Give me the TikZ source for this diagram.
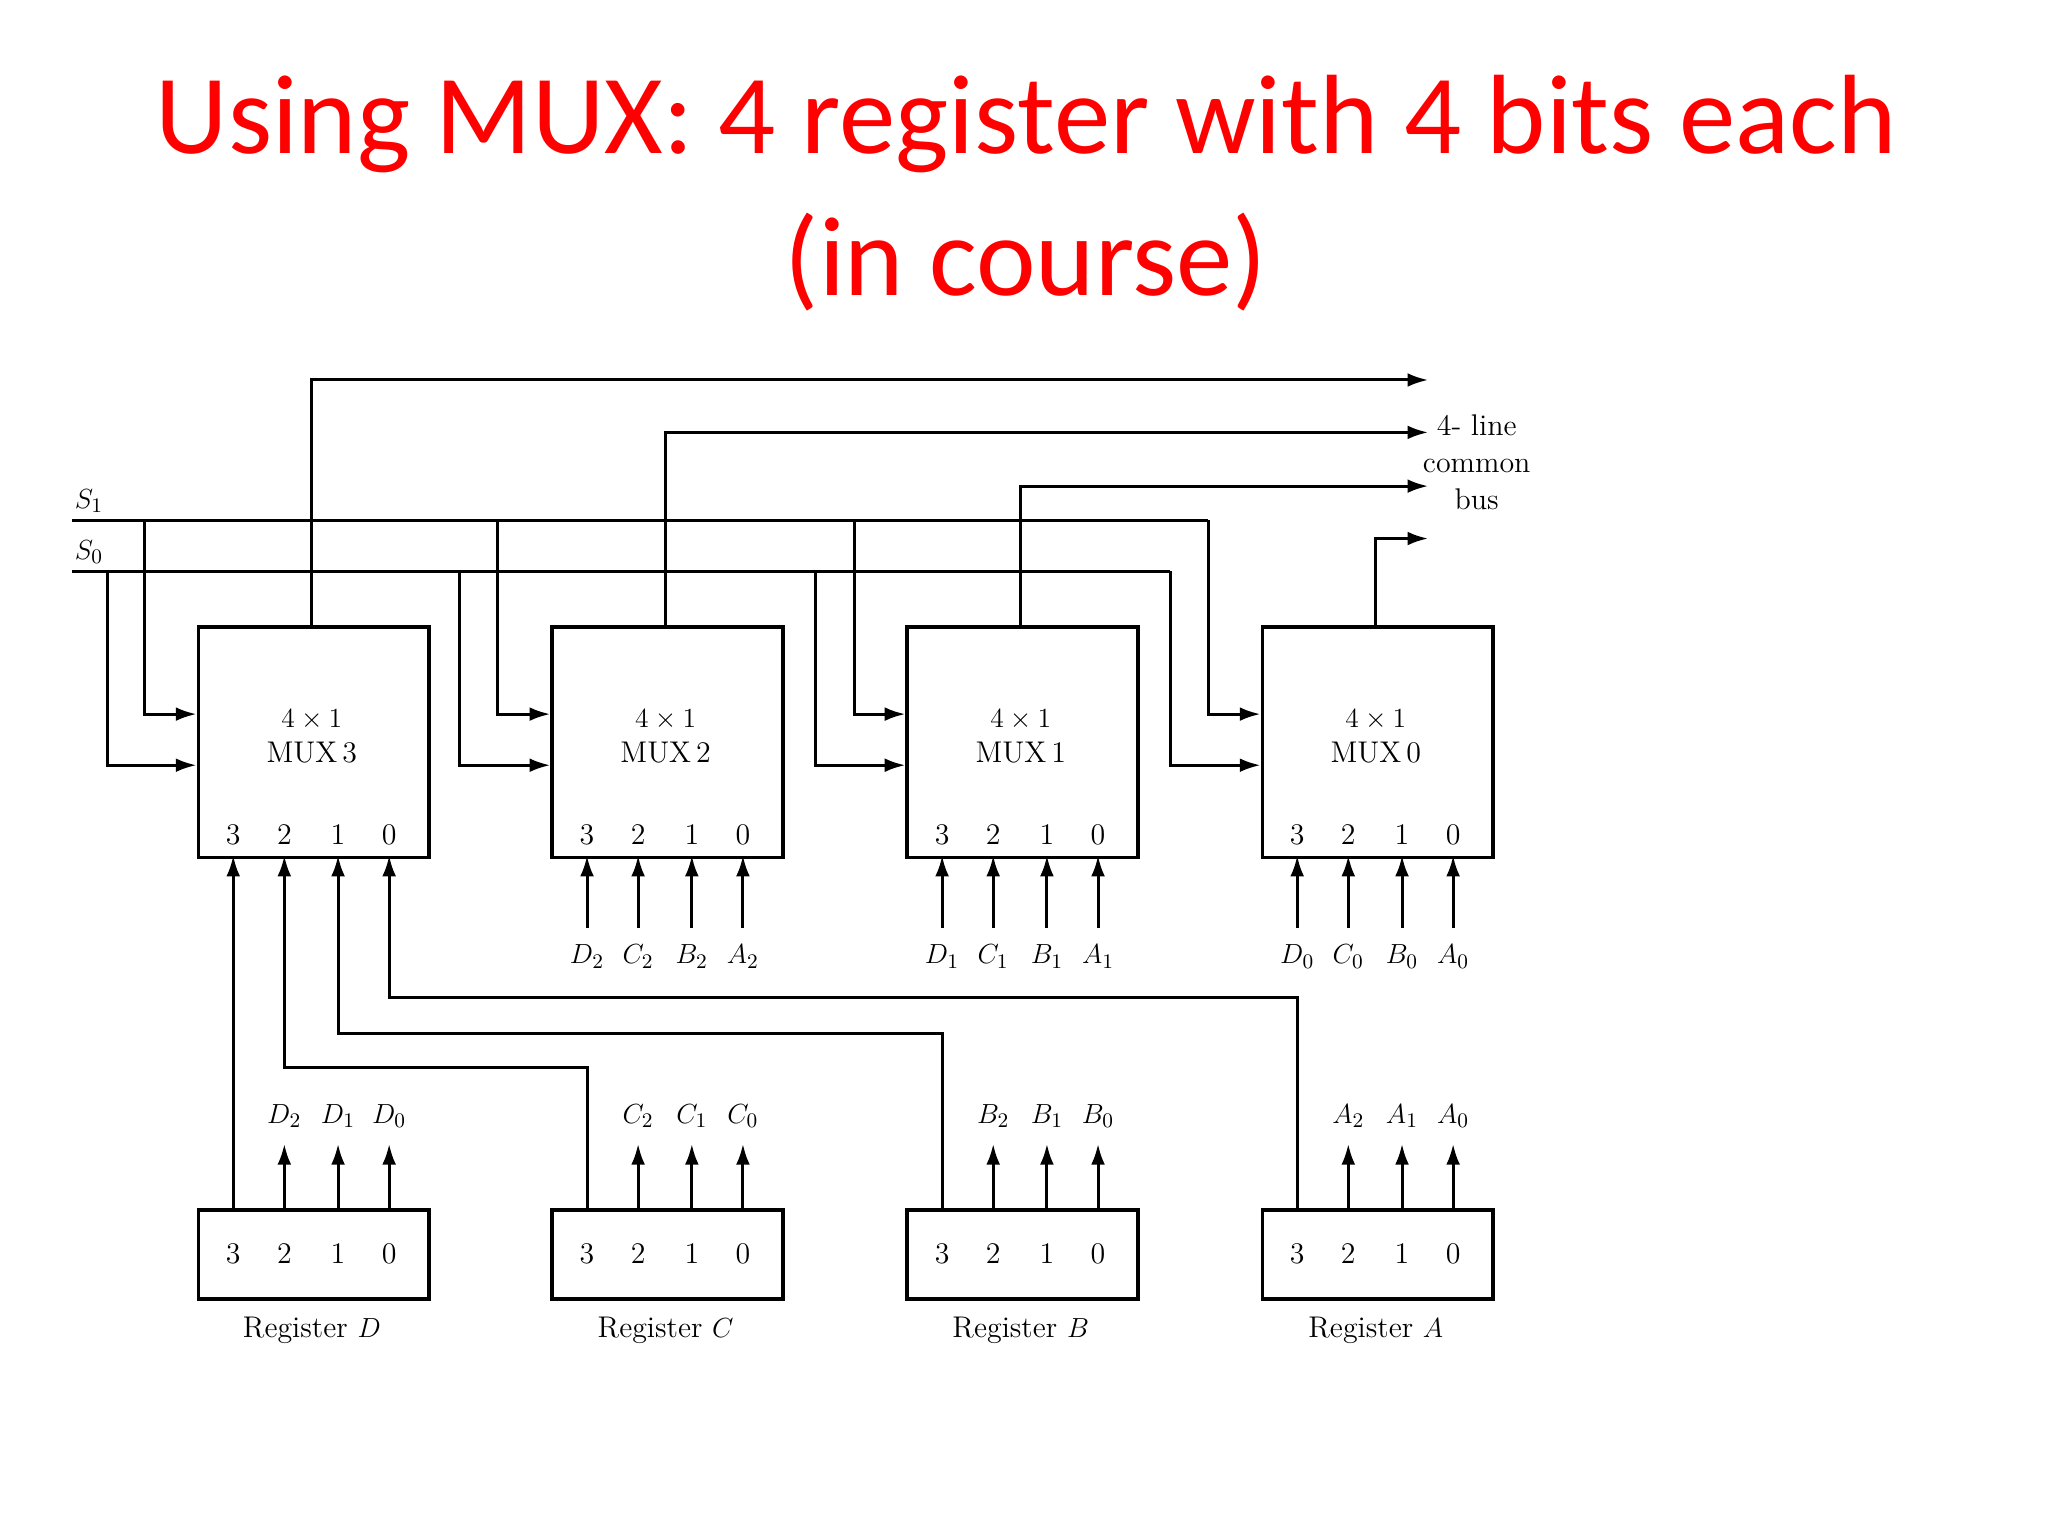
\documentclass[tikz,border=0pt]{standalone}
\usepackage{fontspec}
\newfontfamily\titlefont{Carlito}
\usetikzlibrary{arrows.meta}
\begin{document}
\begin{tikzpicture}[x=0.02cm,y=-0.02cm,
  wire/.style={line width=1.3pt},
  arr/.style={wire,-{Latex[length=9pt,width=6pt]}},
  box/.style={draw,line width=1.6pt,minimum width=3.52cm,inner sep=0,anchor=north west},
  lbl/.style={font=\fontsize{13}{15}\selectfont,inner sep=1pt},
  ttl/.style={font=\titlefont\fontsize{49}{56}\selectfont,text=red}]
\useasboundingbox (0,0) rectangle (1563,1172);
\node[ttl] (t1) at (783,95) {Using MUX: 4 register with 4 bits each};
\node[ttl] (t2) at (783,200) {(in course)};
% select lines
\coordinate (s1a) at (55,397); \coordinate (s1b) at (922,397);
\coordinate (s0a) at (55,436); \coordinate (s0b) at (893,436);
\draw[wire] (s1a) -- (s1b); \draw[wire] (s0a) -- (s0b);
\node[lbl,anchor=south west] (ls1) at (55,393) {$S_1$};
\node[lbl,anchor=south west] (ls0) at (55,432) {$S_0$};
% muxes and registers
\foreach \i/\x/\L/\sa/\sb/\oy in {3/150/D/110/82/290,2/420/C/380/351/330,1/691/B/652/622/371,0/962/A/922/893/411}{
  \node[box,minimum height=3.52cm] (m\i) at (\x,477) {};
  \node[lbl,align=center] (mt\i) at (\x+88,562) {$4\times1$\\MUX\,\i};
  \node[box,minimum height=1.36cm] (r\L) at (\x,922) {};
  \node[lbl] (rl\L) at (\x+88,1015) {Register $\L$};
  \foreach \k/\o in {3/28,2/67,1/108,0/147}{
    \node[lbl] (mp\i\k) at (\x+\o,637) {\k};
    \node[lbl] (rp\L\k) at (\x+\o,957) {\k};
    \coordinate (mi\i\k) at (\x+\o,653);
    \coordinate (ro\L\k) at (\x+\o,922);
  }
  \foreach \k/\o in {2/67,1/108,0/147}{
    \coordinate (rt\L\k) at (\x+\o,873);
    \draw[arr] (ro\L\k) -- (rt\L\k);
    \node[lbl] (rn\L\k) at (\x+\o,852) {$\L_{\k}$};
  }
  % select taps
  \coordinate (sa\i) at (\sa,397); \coordinate (sb\i) at (\sb,436);
  \draw[arr] (sa\i) |- (\x,545);
  \draw[arr] (sb\i) |- (\x,584);
  % output
  \coordinate (ot\i) at (\x+88,477);
  \coordinate (oe\i) at (1090,\oy);
  \draw[arr] (ot\i) |- (oe\i);
}
% inputs of MUX 2,1,0
\foreach \i/\x/\s in {2/420/2,1/691/1,0/962/0}{
  \foreach \k/\o/\L in {3/28/D,2/67/C,1/108/B,0/147/A}{
    \coordinate (ib\i\k) at (\x+\o,708);
    \draw[arr] (ib\i\k) -- (mi\i\k);
    \node[lbl] (il\i\k) at (\x+\o,730) {$\L_{\s}$};
  }
}
% MUX 3 inputs from registers
\draw[arr] (roD3) -- (mi33);
\draw[arr] (roC3) |- (217,815) -- (mi32);
\draw[arr] (roB3) |- (258,789) -- (mi31);
\draw[arr] (roA3) |- (297,761) -- (mi30);
% bus label
\node[lbl,align=center,font=\fontsize{13}{16}\selectfont] (bus) at (1127,353) {4- line\\common\\bus};
\end{tikzpicture}
\end{document}
